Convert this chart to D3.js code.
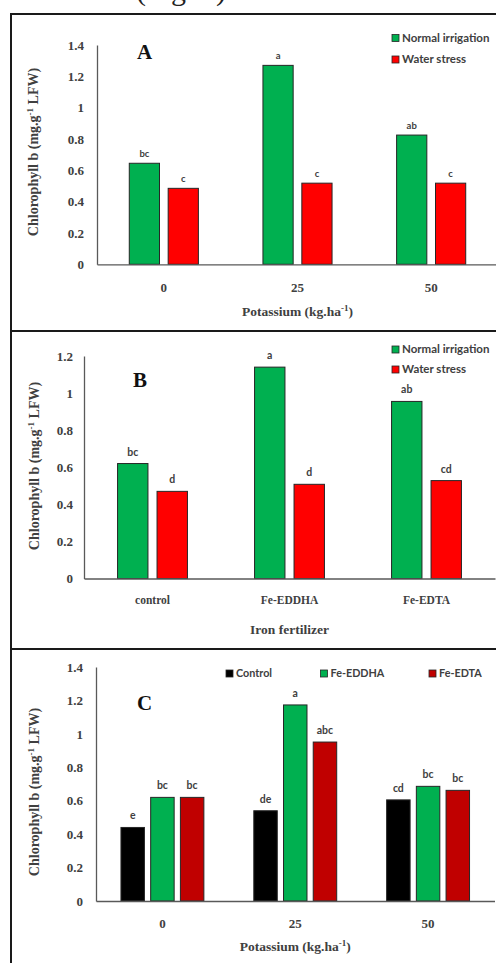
<!DOCTYPE html>
<html><head><meta charset="utf-8">
<script src="https://cdn.jsdelivr.net/npm/d3@7"></script>
<style>body{margin:0;background:#fff}svg{display:block}</style>
</head><body>
<svg id="c" width="496" height="963"></svg>
<script>
// ---- data ----
const potassium = ["0", "25", "50"];
const ironFert = ["control", "Fe-EDDHA", "Fe-EDTA"];
const irrigationSeries = ["Normal irrigation", "Water stress"];
const ironSeries = ["Control", "Fe-EDDHA", "Fe-EDTA"];

const aNormal = [0.645, 1.27, 0.825];
const aWater = [0.485, 0.518, 0.518];
const aNormalLetters = ["bc", "a", "ab"];
const aWaterLetters = ["c", "c", "c"];

const bNormal = [0.62, 1.14, 0.955];
const bWater = [0.47, 0.508, 0.528];
const bNormalLetters = ["bc", "a", "ab"];
const bWaterLetters = ["d", "d", "cd"];

const cControl = [0.44, 0.54, 0.605];
const cEDDHA = [0.62, 1.173, 0.686];
const cEDTA = [0.62, 0.951, 0.662];
const cControlLetters = ["e", "de", "cd"];
const cEDDHALetters = ["bc", "a", "bc"];
const cEDTALetters = ["bc", "abc", "bc"];

const ticksA = [0, 0.2, 0.4, 0.6, 0.8, 1, 1.2, 1.4];
const ticksB = [0, 0.2, 0.4, 0.6, 0.8, 1, 1.2];
const ticksC = [0, 0.2, 0.4, 0.6, 0.8, 1, 1.2, 1.4];

const GREEN = "#00B050", RED = "#FF0000", DARKRED = "#C00000", BLACK = "#000000";
const SERIF = "'Liberation Serif','Times New Roman',serif";
const SANS = "Lato,'Open Sans',sans-serif";

const svg = d3.select("#c");

// caption fragment at top (cut off by the page edge, as in the reference)
svg.append("text").attr("x", 136).attr("y", 0).attr("font-family", SERIF)
  .attr("font-size", 30).attr("fill", "#222").text("(Fig. 4)");

function panel(cfg) {
  const g = svg.append("g");
  g.append("rect").attr("x", 11).attr("y", cfg.top).attr("width", 500).attr("height", cfg.bottom - cfg.top)
    .attr("fill", "none").attr("stroke", "#1a1a1a").attr("stroke-width", 2);

  const x = d3.scaleBand().domain(cfg.cats).range(cfg.xr).paddingInner(0).paddingOuter(0);
  const xs = d3.scaleBand().domain(cfg.series.map(s => s.name)).range([0, x.bandwidth()])
    .paddingInner(cfg.pi).paddingOuter(cfg.po);
  const y = d3.scaleLinear().domain(cfg.yd).range(cfg.yr);

  cfg.series.forEach(s => {
    const sg = g.append("g");
    sg.selectAll("rect").data(s.values).join("rect")
      .attr("x", (d, i) => x(cfg.cats[i]) + xs(s.name))
      .attr("y", d => y(d))
      .attr("width", xs.bandwidth())
      .attr("height", d => y(0) - y(d))
      .attr("fill", s.color).attr("stroke", "#262626").attr("stroke-width", 1);
    sg.selectAll("text").data(s.values).join("text")
      .attr("x", (d, i) => x(cfg.cats[i]) + xs(s.name) + xs.bandwidth() / 2)
      .attr("y", d => y(d) - cfg.lblOff)
      .attr("text-anchor", "middle").attr("font-family", SANS).attr("font-weight", "bold")
      .attr("font-size", cfg.lblSize).attr("fill", "#404040")
      .text((d, i) => s.letters[i]);
  });

  const ya = g.append("g").attr("transform", `translate(${cfg.xr[0]},0)`)
    .call(d3.axisLeft(y).tickValues(cfg.ticks).tickSize(0).tickPadding(cfg.tickPad).tickFormat(d3.format("")));
  ya.select(".domain").attr("stroke", "#595959").attr("stroke-width", 1.3);
  ya.selectAll("text").attr("font-family", SERIF).attr("font-weight", "bold").attr("font-size", 13)
    .attr("fill", "#404040");

  const xa = g.append("g").attr("transform", `translate(0,${y(0)})`)
    .call(d3.axisBottom(x).tickSize(0).tickPadding(cfg.xTickPad));
  xa.select(".domain").attr("stroke", "#595959").attr("stroke-width", 1.3);
  xa.selectAll("text").attr("font-family", SERIF).attr("font-weight", "bold").attr("font-size", cfg.xTickSize)
    .attr("fill", "#404040");

  const xt = g.append("text").attr("x", (cfg.xr[0] + cfg.xr[1]) / 2).attr("y", cfg.xTitleY)
    .attr("text-anchor", "middle").attr("font-family", SERIF).attr("font-weight", "bold")
    .attr("font-size", 13.5).attr("fill", "#404040");
  xt.append("tspan").text(cfg.xTitle);
  if (cfg.xTitleSup) {
    xt.append("tspan").attr("dy", -5).attr("font-size", 9).text("-1");
    xt.append("tspan").attr("dy", 5).text(")");
  }

  const yt = g.append("text").attr("transform", `translate(${cfg.yTitleX},${cfg.yTitleY}) rotate(-90)`)
    .attr("text-anchor", "middle").attr("font-family", SERIF).attr("font-weight", "bold")
    .attr("font-size", 14).attr("fill", "#404040");
  yt.append("tspan").text("Chlorophyll b (mg.g");
  yt.append("tspan").attr("dy", -5).attr("font-size", 9).text("-1");
  yt.append("tspan").attr("dy", 5).text(" LFW)");

  g.append("text").attr("x", cfg.letterX).attr("y", cfg.letterY).attr("font-family", SERIF)
    .attr("font-weight", "bold").attr("font-size", 21).attr("fill", "#111").text(cfg.letter);

  cfg.legend.forEach(l => {
    g.append("rect").attr("x", l.x).attr("y", l.y - 3.5).attr("width", 7).attr("height", 7)
      .attr("fill", l.color).attr("stroke", "#262626").attr("stroke-width", 0.8);
    g.append("text").attr("x", l.x + 10).attr("y", l.y + 3.8).attr("font-family", SANS)
      .attr("font-weight", "bold").attr("font-size", cfg.legSize).attr("fill", "#404040").text(l.name);
  });
}

panel({
  top: 14, bottom: 331, cats: potassium, xr: [97, 498], yd: [0, 1.4], yr: [264.3, 45], ticks: ticksA,
  pi: 0.223, po: 0.83, lblOff: 6.5, lblSize: 9.5, tickPad: 13, xTickPad: 18, xTickSize: 13,
  xTitle: "Potassium (kg.ha", xTitleSup: true, xTitleY: 316, legSize: 11.5,
  yTitleX: 38, yTitleY: 152, letter: "A", letterX: 137, letterY: 59,
  series: [
    { name: irrigationSeries[0], values: aNormal, letters: aNormalLetters, color: GREEN },
    { name: irrigationSeries[1], values: aWater, letters: aWaterLetters, color: RED }
  ],
  legend: [
    { name: irrigationSeries[0], color: GREEN, x: 392, y: 38 },
    { name: irrigationSeries[1], color: RED, x: 392, y: 59.5 }
  ]
});

panel({
  top: 331, bottom: 649, cats: ironFert, xr: [84, 495], yd: [0, 1.2], yr: [578.5, 356], ticks: ticksB,
  pi: 0.23, po: 0.85, lblOff: 8, lblSize: 10.5, tickPad: 11, xTickPad: 17, xTickSize: 11.5,
  xTitle: "Iron fertilizer", xTitleSup: false, xTitleY: 634, legSize: 11.5,
  yTitleX: 39, yTitleY: 466, letter: "B", letterX: 133, letterY: 387,
  series: [
    { name: irrigationSeries[0], values: bNormal, letters: bNormalLetters, color: GREEN },
    { name: irrigationSeries[1], values: bWater, letters: bWaterLetters, color: RED }
  ],
  legend: [
    { name: irrigationSeries[0], color: GREEN, x: 392, y: 349.5 },
    { name: irrigationSeries[1], color: RED, x: 392, y: 369.5 }
  ]
});

panel({
  top: 649, bottom: 970, cats: potassium, xr: [96, 494.5], yd: [0, 1.4], yr: [901, 667], ticks: ticksC,
  pi: 0.21, po: 0.84, lblOff: 8, lblSize: 10.5, tickPad: 13, xTickPad: 18, xTickSize: 13,
  xTitle: "Potassium (kg.ha", xTitleSup: true, xTitleY: 951, legSize: 10.8,
  yTitleX: 39, yTitleY: 792, letter: "C", letterX: 137, letterY: 710,
  series: [
    { name: ironSeries[0], values: cControl, letters: cControlLetters, color: BLACK },
    { name: ironSeries[1], values: cEDDHA, letters: cEDDHALetters, color: GREEN },
    { name: ironSeries[2], values: cEDTA, letters: cEDTALetters, color: DARKRED }
  ],
  legend: [
    { name: ironSeries[0], color: BLACK, x: 226, y: 673.5 },
    { name: ironSeries[1], color: GREEN, x: 320.5, y: 673.5 },
    { name: ironSeries[2], color: DARKRED, x: 429, y: 673.5 }
  ]
});
</script>
</body></html>
